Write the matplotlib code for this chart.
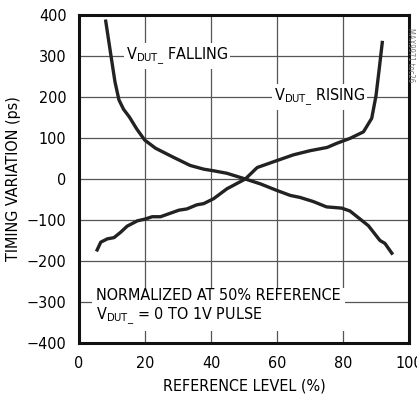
import matplotlib
matplotlib.use("Agg")
import matplotlib.pyplot as plt

plt.rcParams['font.family'] = ['DejaVu Sans']
plt.rcParams['font.stretch'] = 'condensed'

# V_DUT_ FALLING
fall_x = [8.1, 9.7, 10.9, 12.1, 13.5, 15.2, 17.5, 19.9, 23.2, 28.6, 33.7, 37.8,
          40.8, 44.8, 50.4, 55.0, 60.0, 64.0, 67.0, 71.0, 75.0, 79.6, 82.1, 84.6,
          87.7, 91.2, 92.7, 94.8]
fall_y = [385, 300, 237, 193, 170, 152, 122, 95, 75, 53, 33, 24,
          20, 14, 0, -12, -28, -40, -45, -55, -68, -71, -78, -94,
          -114, -150, -157, -181]

# V_DUT_ RISING
rise_x = [5.5, 6.6, 8.6, 10.6, 12.6, 14.6, 17.7, 19.9, 22.2, 24.7, 30.3, 32.7,
          35.7, 37.8, 40.8, 44.8, 50.4, 54.0, 60.0, 65.0, 70.0, 75.2, 78.1, 82.1,
          86.2, 88.7, 90.0, 91.0, 91.9]
rise_y = [-173, -154, -146, -143, -130, -115, -102, -98, -92, -92, -76, -73,
          -63, -60, -48, -24, 0, 28, 45, 59, 69, 77, 87, 99,
          115, 148, 203, 270, 333]

xticks = [0, 20, 40, 60, 80, 100]
yticks = [400, 300, 200, 100, 0, -100, -200, -300, -400]

fig = plt.figure(figsize=(4.17, 4.0), dpi=100)
ax = fig.add_axes([79/417, 57/400, 330/417, 328/400])

ax.plot(fall_x, fall_y, color='#222222', lw=2.4, zorder=3)
ax.plot(rise_x, rise_y, color='#222222', lw=2.4, zorder=3)

ax.set_xlim(0, 100)
ax.set_ylim(-400, 400)
ax.set_xticks(xticks)
ax.set_yticks(yticks)
ax.grid(True, color='#555555', lw=0.9)
ax.tick_params(length=0, labelsize=11.5, pad=9)
for s in ax.spines.values():
    s.set_linewidth(2.2)
    s.set_color('#111111')

ax.set_xlabel('REFERENCE LEVEL (%)', fontsize=11.5, labelpad=6)
ax.set_ylabel('TIMING VARIATION (ps)', fontsize=11.5, labelpad=4)

box = dict(facecolor='white', edgecolor='none', pad=1.5)
ax.text(14.2, 300, r'V$_{\mathregular{DUT\_}}$ FALLING', fontsize=11.5,
        va='center', ha='left', bbox=box, zorder=2)
ax.text(59.0, 200, r'V$_{\mathregular{DUT\_}}$ RISING', fontsize=11.5,
        va='center', ha='left', bbox=box, zorder=2)
ax.text(5.2, -313, 'NORMALIZED AT 50% REFERENCE\n' + r'V$_{\mathregular{DUT\_}}$ = 0 TO 1V PULSE',
        fontsize=11.5, va='center', ha='left', linespacing=1.25,
        bbox=dict(facecolor='white', edgecolor='none', pad=3), zorder=2)

fig.text(411/417, 372/400, 'MAX9971 toc26', rotation=-90, fontsize=5.5,
         color='#777777', ha='center', va='top')

fig.savefig('out.png', dpi=100)
